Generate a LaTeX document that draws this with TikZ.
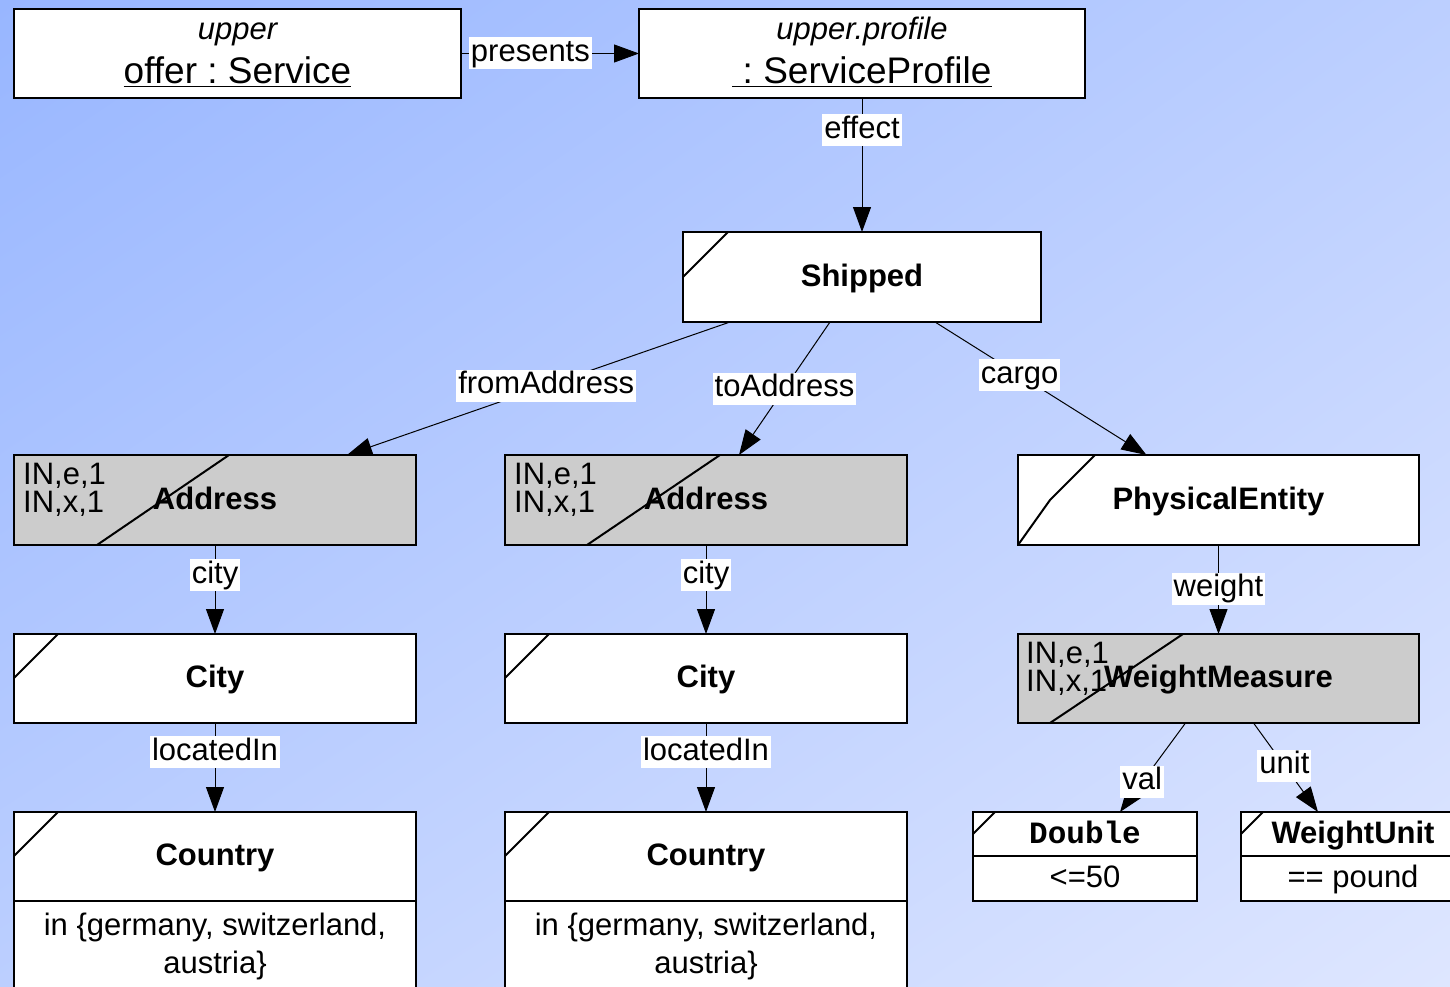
\documentclass[tikz,border=0pt]{standalone}
\usepackage{fontspec}
\setmainfont{Liberation Sans}
\setmonofont{Liberation Mono}
\usetikzlibrary{arrows.meta,calc,shadings}
\definecolor{bgA}{RGB}{152,182,255}
\definecolor{bgM}{RGB}{188,207,255}
\definecolor{bgB}{RGB}{222,230,255}
\definecolor{greyfill}{RGB}{204,204,204}
\newcommand{\fnorm}{\fontsize{31}{36}\selectfont}
\newcommand{\fbig}{\fontsize{37}{42}\selectfont}
\frenchspacing
\begin{document}
\begin{tikzpicture}[x=1pt,y=-1pt,
  box/.style={draw=black, line width=2pt, fill=white, inner sep=0pt, outer sep=0pt,
    text height=22pt, text depth=4pt, font=\fnorm\bfseries},
  gbox/.style={box, fill=greyfill},
  txt/.style={inner sep=0pt, anchor=base, font=\fnorm},
  lbl/.style={fill=white, inner xsep=2pt, inner ysep=1pt,
    text height=23pt, text depth=7pt, font=\fnorm},
  conn/.style={line width=1pt, -{Triangle[length=25pt,width=18pt]}},
  cut/.style={line width=2pt}
]
\useasboundingbox (0,0) rectangle (1450,987);
\clip (0,0) rectangle (1450,987);
\shade[upper left=bgA, upper right=bgM, lower left=bgM, lower right=bgB]
  (0,0) rectangle (1450,987);

% top boxes
\node[box, minimum width=447pt, minimum height=89pt] (offer) at (237.5,53.5) {};
\node[txt, font=\fnorm\itshape] (offerA) at (237.5,40) {upper};
\node[txt, font=\fbig] (offerB) at (237.5,84) {\underline{offer : Service}};

\node[box, minimum width=446pt, minimum height=89pt] (prof) at (862,53.5) {};
\node[txt, font=\fnorm\itshape] (profA) at (862,40) {upper.profile};
\node[txt, font=\fbig] (profB) at (862,84) {\underline{\ : ServiceProfile}};

% Shipped
\node[box, minimum width=358pt, minimum height=90pt] (ship) at (862,277) {Shipped};
\draw[cut] ($(ship.north west)+(0,45)$) -- ($(ship.north west)+(45,0)$);

% Address boxes
\node[gbox, minimum width=402pt, minimum height=90pt] (addrA) at (215,500) {Address};
\draw[cut] ($(addrA.south west)+(83,0)$) -- ($(addrA.north west)+(215,0)$);
\node[txt, anchor=base west] (addrAe) at (23,484) {IN,e,1};
\node[txt, anchor=base west] (addrAx) at (23,512) {IN,x,1};

\node[gbox, minimum width=402pt, minimum height=90pt] (addrB) at (706,500) {Address};
\draw[cut] ($(addrB.south west)+(82,0)$) -- ($(addrB.north west)+(215,0)$);
\node[txt, anchor=base west] (addrBe) at (514,484) {IN,e,1};
\node[txt, anchor=base west] (addrBx) at (514,512) {IN,x,1};

% PhysicalEntity
\node[box, minimum width=401pt, minimum height=90pt] (PE) at (1218.5,500) {PhysicalEntity};
\draw[cut] (PE.south west) -- ($(PE.south west)+(32,-45)$) -- ($(PE.north west)+(77,0)$);

% City boxes
\node[box, minimum width=402pt, minimum height=89pt] (cityA) at (215,678.5) {City};
\draw[cut] ($(cityA.north west)+(0,44)$) -- ($(cityA.north west)+(44,0)$);
\node[box, minimum width=402pt, minimum height=89pt] (cityB) at (706,678.5) {City};
\draw[cut] ($(cityB.north west)+(0,44)$) -- ($(cityB.north west)+(44,0)$);

% WeightMeasure
\node[gbox, minimum width=401pt, minimum height=89pt] (WM) at (1218.5,678.5) {WeightMeasure};
\draw[cut] ($(WM.south west)+(32,0)$) -- ($(WM.north west)+(165,0)$);
\node[txt, anchor=base west] (WMe) at (1026,663) {IN,e,1};
\node[txt, anchor=base west] (WMx) at (1026,691) {IN,x,1};

% Country boxes
\node[box, minimum width=402pt, minimum height=89pt] (countryA) at (215,856.5) {Country};
\draw[cut] ($(countryA.north west)+(0,44)$) -- ($(countryA.north west)+(44,0)$);
\node[box, minimum width=402pt, minimum height=200pt, anchor=north] (countryAb) at (countryA.south) {};
\node[txt] (countryAt1) at (215,935) {in \{germany, switzerland,};
\node[txt] (countryAt2) at (215,973) {austria\}};

\node[box, minimum width=402pt, minimum height=89pt] (countryB) at (706,856.5) {Country};
\draw[cut] ($(countryB.north west)+(0,44)$) -- ($(countryB.north west)+(44,0)$);
\node[box, minimum width=402pt, minimum height=200pt, anchor=north] (countryBb) at (countryB.south) {};
\node[txt] (countryBt1) at (706,935) {in \{germany, switzerland,};
\node[txt] (countryBt2) at (706,973) {austria\}};

% Double / WeightUnit
\node[box, minimum width=224pt, minimum height=44pt, font=\fnorm\ttfamily\bfseries] (dbl) at (1085,834) {Double};
\draw[cut] ($(dbl.north west)+(0,22)$) -- ($(dbl.north west)+(22,0)$);
\node[box, minimum width=224pt, minimum height=45pt, anchor=north, font=\fnorm] (dblb) at (dbl.south) {<=50};

\node[box, minimum width=224pt, minimum height=44pt] (wu) at (1353,834) {WeightUnit};
\draw[cut] ($(wu.north west)+(0,22)$) -- ($(wu.north west)+(22,0)$);
\node[box, minimum width=224pt, minimum height=45pt, anchor=north, font=\fnorm] (wub) at (wu.south) {== pound};

% connectors
\draw[conn] (offer.east) -- node[lbl, pos=0.39] (lpres) {presents} (prof.west);
\draw[conn] (prof.south) -- node[lbl, pos=0.24] (leff) {effect} (ship.north);
\draw[conn] ($(ship.south)+(-132,0)$) -- node[lbl, pos=0.48] (lfrom) {fromAddress} ($(addrA.north)+(132,0)$);
\draw[conn] ($(ship.south)+(-32,0)$) -- node[lbl, pos=0.5] (lto) {toAddress} ($(addrB.north)+(33,0)$);
\draw[conn] ($(ship.south)+(73,0)$) -- node[lbl, pos=0.4] (lcargo) {cargo} ($(PE.north)+(-72,0)$);
\draw[conn] (addrA.south) -- node[lbl, pos=0.34] (lcityA) {city} (cityA.north);
\draw[conn] (addrB.south) -- node[lbl, pos=0.34] (lcityB) {city} (cityB.north);
\draw[conn] (cityA.south) -- node[lbl, pos=0.33] (llocA) {locatedIn} (countryA.north);
\draw[conn] (cityB.south) -- node[lbl, pos=0.33] (llocB) {locatedIn} (countryB.north);
\draw[conn] (PE.south) -- node[lbl, pos=0.49] (lweight) {weight} (WM.north);
\draw[conn] ($(WM.south)+(-33,0)$) -- node[lbl, pos=0.66] (lval) {val} ($(dbl.north)+(35,0)$);
\draw[conn] ($(WM.south)+(35,0)$) -- node[lbl, pos=0.48] (lunit) {unit} ($(wu.north)+(-35,0)$);
\end{tikzpicture}
\end{document}
